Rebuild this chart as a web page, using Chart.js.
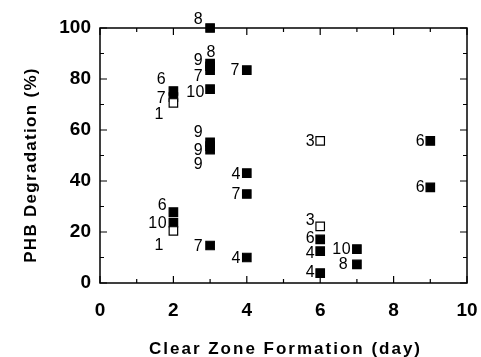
<!DOCTYPE html>
<html>
<head>
<meta charset="utf-8">
<script src="https://cdn.jsdelivr.net/npm/chart.js@4/dist/chart.umd.min.js"></script>
<style>
  html, body { margin: 0; padding: 0; background: #fff; }
  #wrap { width: 481px; height: 357px; }
</style>
</head>
<body>
<div id="wrap"><canvas id="chart" width="481" height="357"></canvas></div>
<script>
// clear zone formation (day) and PHB degradation (%), one entry per strain sample
const days = [2, 2, 2, 3, 3, 3, 3, 3, 4, 3, 3, 3, 4, 4, 2, 2, 2, 3, 4, 6, 6, 6, 6, 6, 7, 7, 9, 9];
const degradation = [75.3, 72.9, 70.6, 100, 86, 85, 83.5, 76, 83.5, 55.2, 53.7, 52.3, 43.1, 34.9,
  27.8, 23.7, 20.4, 14.7, 10.0, 55.7, 22.2, 17.1, 12.5, 3.9, 13.3, 7.3, 55.7, 37.5];
const strain = ["6", "7", "1", "8", "8", "9", "7", "10", "7", "9", "9", "9", "4", "7",
  "6", "10", "1", "7", "4", "3", "3", "6", "4", "4", "10", "8", "6", "6"];
// where each strain number is written (data units, right edge / middle of the text)
const labelDay = [1.8, 1.8, 1.74, 2.81, 3.16, 2.81, 2.81, 2.86, 3.81, 2.81, 2.81, 2.81, 3.84, 3.84,
  1.83, 1.83, 1.74, 2.81, 3.84, 5.86, 5.86, 5.86, 5.86, 5.86, 6.84, 6.76, 8.86, 8.86];
const labelPct = [80, 72.9, 66.3, 103.5, 90.6, 87.8, 81.2, 74.9, 83.5, 59.2, 52.2, 46.7, 43.1, 34.9,
  30.6, 23.5, 14.9, 14.7, 10.0, 55.9, 24.9, 17.8, 12.0, 4.3, 13.3, 7.5, 55.9, 37.8];
const openStrains = ["1", "3"];
const yTicks = [0, 20, 40, 60, 80, 100];
const xTicks = [0, 2, 4, 6, 8, 10];

const points = days.map((d, i) => ({ x: d, y: degradation[i] }));

const framePlugin = {
  id: "frame",
  afterDatasetsDraw(chart) {
    const { ctx, chartArea: a, scales } = chart;
    const xs = scales.x, ys = scales.y;
    ctx.save();
    ctx.strokeStyle = "#000";
    ctx.lineWidth = 1.5;
    ctx.strokeRect(a.left, a.top, a.right - a.left, a.bottom - a.top);
    ctx.lineWidth = 1.2;
    ctx.beginPath();
    for (let v = 0; v <= 100; v += 10) {
      const py = ys.getPixelForValue(v);
      const len = v % 20 === 0 ? 7 : 4;
      ctx.moveTo(a.left, py); ctx.lineTo(a.left + len, py);
      ctx.moveTo(a.right, py); ctx.lineTo(a.right - len, py);
    }
    for (let v = 0; v <= 10; v += 1) {
      const px = xs.getPixelForValue(v);
      const len = v % 2 === 0 ? 7 : 4;
      ctx.moveTo(px, a.bottom); ctx.lineTo(px, a.bottom - len);
      ctx.moveTo(px, a.top); ctx.lineTo(px, a.top + len);
    }
    ctx.stroke();

    // strain numbers
    ctx.fillStyle = "#000";
    ctx.font = "16px 'Liberation Sans', Arial, sans-serif";
    ctx.letterSpacing = "0.5px";
    ctx.textAlign = "right";
    ctx.textBaseline = "middle";
    strain.forEach((s, i) => {
      ctx.fillText(s, xs.getPixelForValue(labelDay[i]), ys.getPixelForValue(labelPct[i]) + 1);
    });

    // axis titles
    ctx.font = "bold 17px 'Liberation Sans', Arial, sans-serif";
    ctx.letterSpacing = "2px";
    ctx.textAlign = "center";
    ctx.textBaseline = "alphabetic";
    ctx.fillText("Clear Zone Formation (day)", (a.left + a.right) / 2 + 2, 354);
    ctx.letterSpacing = "1.3px";
    ctx.translate(36, 165);
    ctx.rotate(-Math.PI / 2);
    ctx.fillText("PHB Degradation (%)", 0, 0);
    ctx.restore();
  },
};

new Chart(document.getElementById("chart"), {
  type: "scatter",
  data: {
    datasets: [
      {
        data: points,
        pointStyle: "rect",
        pointRadius: 6,
        pointHoverRadius: 6,
        borderWidth: 1.2,
        borderColor: "#000",
        backgroundColor: strain.map((s) => (openStrains.includes(s) ? "#fff" : "#000")),
        clip: false,
      },
    ],
  },
  options: {
    responsive: false,
    animation: false,
    layout: { padding: { top: 28, right: 14, left: 0, bottom: 0 } },
    plugins: { legend: { display: false }, tooltip: { enabled: false } },
    scales: {
      x: {
        type: "linear",
        min: 0,
        max: 10,
        afterBuildTicks: (s) => { s.ticks = xTicks.map((v) => ({ value: v })); },
        afterFit: (s) => {
          s.height = 74;
          s.paddingLeft = 0;
          s.paddingRight = 0;
        },
        grid: { display: false, drawTicks: false },
        border: { display: false },
        ticks: {
          padding: 16,
          color: "#000",
          font: { family: "'Liberation Sans', Arial, sans-serif", size: 19, weight: "bold" },
        },
      },
      y: {
        type: "linear",
        min: 0,
        max: 100,
        afterBuildTicks: (s) => { s.ticks = yTicks.map((v) => ({ value: v })); },
        afterFit: (s) => {
          s.width = 100;
          s.paddingTop = 0;
          s.paddingBottom = 0;
        },
        grid: { display: false, drawTicks: false },
        border: { display: false },
        ticks: {
          padding: 9,
          color: "#000",
          font: { family: "'Liberation Sans', Arial, sans-serif", size: 19, weight: "bold" },
        },
      },
    },
  },
  plugins: [framePlugin],
});
</script>
</body>
</html>
